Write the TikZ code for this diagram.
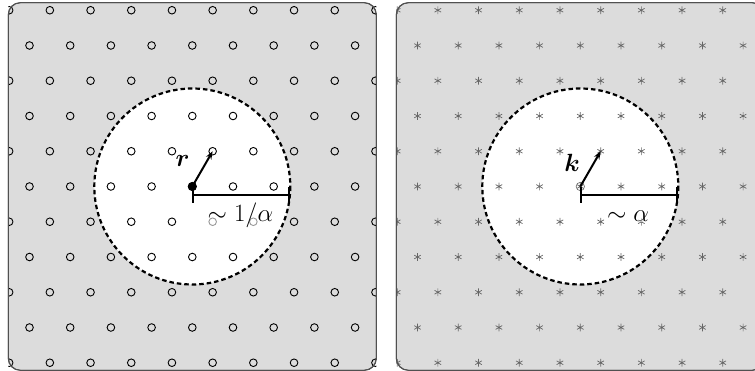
\documentclass[tikz,border=0pt]{standalone}
\usepackage{amsmath}
\usetikzlibrary{arrows.meta,calc}
\definecolor{panelfill}{HTML}{DCDCDC}
\definecolor{panelline}{HTML}{505050}
\definecolor{astgray}{HTML}{666666}
\tikzset{
  panel/.style={fill=panelfill, draw=panelline, line width=1pt, rounded corners=12pt},
  hole/.style={fill=white},
  ring/.style={draw=black, line width=2.2pt, dash pattern=on 4.5pt off 3pt},
  site/.style={draw=black, line width=0.9pt},
  astline/.style={draw=astgray, line width=0.7pt},
  vec/.style={line width=2pt, -{Stealth[length=8pt,width=6pt]}},
  radbar/.style={line width=2pt, {Bar[width=16pt]}-{Bar[width=16pt]}},
  lbl/.style={fill=white, fill opacity=0.6, text opacity=1, inner sep=1pt, font=\fontsize{24}{28}\selectfont},
  astm/.pic={\draw[astline] (90:3.8)--(270:3.8) (30:3.8)--(210:3.8) (150:3.8)--(330:3.8);}
}
\begin{document}
\begin{tikzpicture}[x=1pt,y=-1pt]
\useasboundingbox (0,0) rectangle (755,371);
% ---------- left panel ----------
\coordinate (C1) at (192.3,186.5);
\path[panel] (8.3,2.7) rectangle (376.3,370.3);
\fill[hole] (C1) circle (98);
\begin{scope}
  \clip (8.3,2.7) rectangle (376.3,370.3);
  \foreach \k in {-5,...,5}{
    \foreach \n in {-5,...,5}{
      \pgfmathsetmacro{\px}{192.3+20.35*abs(mod(\k,2))+40.7*\n}
      \pgfmathsetmacro{\py}{186.5+35.25*\k}
      \draw[site] (\px,\py) circle (3.8);
    }
  }
\end{scope}
\draw[ring] (C1) circle (98);
\draw[panel, fill=none] (8.3,2.7) rectangle (376.3,370.3);
\coordinate (O1) at (192.3,186.5);
\coordinate (T1) at ($(O1)+(20.35,-35.25)$);
\coordinate (B1) at (192.3,195);
\coordinate (E1) at (290.3,195);
\draw[radbar] (B1) -- (E1);
\draw[vec] (O1) -- (T1);
\fill[black] (O1) circle (4.6);
\node[lbl] (L1) at (240.5,215) {$\sim 1/\alpha$};
\node[lbl] (R1) at (182.5,161) {$\boldsymbol{r}$};
% ---------- right panel ----------
\coordinate (C2) at (580.3,186.5);
\path[panel] (396.3,2.7) rectangle (764.3,370.3);
\fill[hole] (C2) circle (98);
\begin{scope}
  \clip (396.3,2.7) rectangle (764.3,370.3);
  \foreach \k in {-5,...,5}{
    \foreach \n in {-5,...,5}{
      \pgfmathsetmacro{\px}{580.3+20.35*abs(mod(\k,2))+40.7*\n}
      \pgfmathsetmacro{\py}{186.5+35.25*\k}
      \path (\px,\py) pic {astm};
    }
  }
\end{scope}
\draw[ring] (C2) circle (98);
\draw[panel, fill=none] (396.3,2.7) rectangle (764.3,370.3);
\coordinate (O2) at (580.3,186.5);
\coordinate (T2) at ($(O2)+(20.35,-35.25)$);
\coordinate (B2) at (580.3,195);
\coordinate (E2) at (678.3,195);
\draw[astgray, line width=0.6pt] (O2) circle (4.2);
\draw[radbar] (B2) -- (E2);
\draw[vec] (O2) -- (T2);
\node[lbl] (L2) at (628,216) {$\sim\alpha$};
\node[lbl] (K1) at (572,163) {$\boldsymbol{k}$};
\end{tikzpicture}
\end{document}
